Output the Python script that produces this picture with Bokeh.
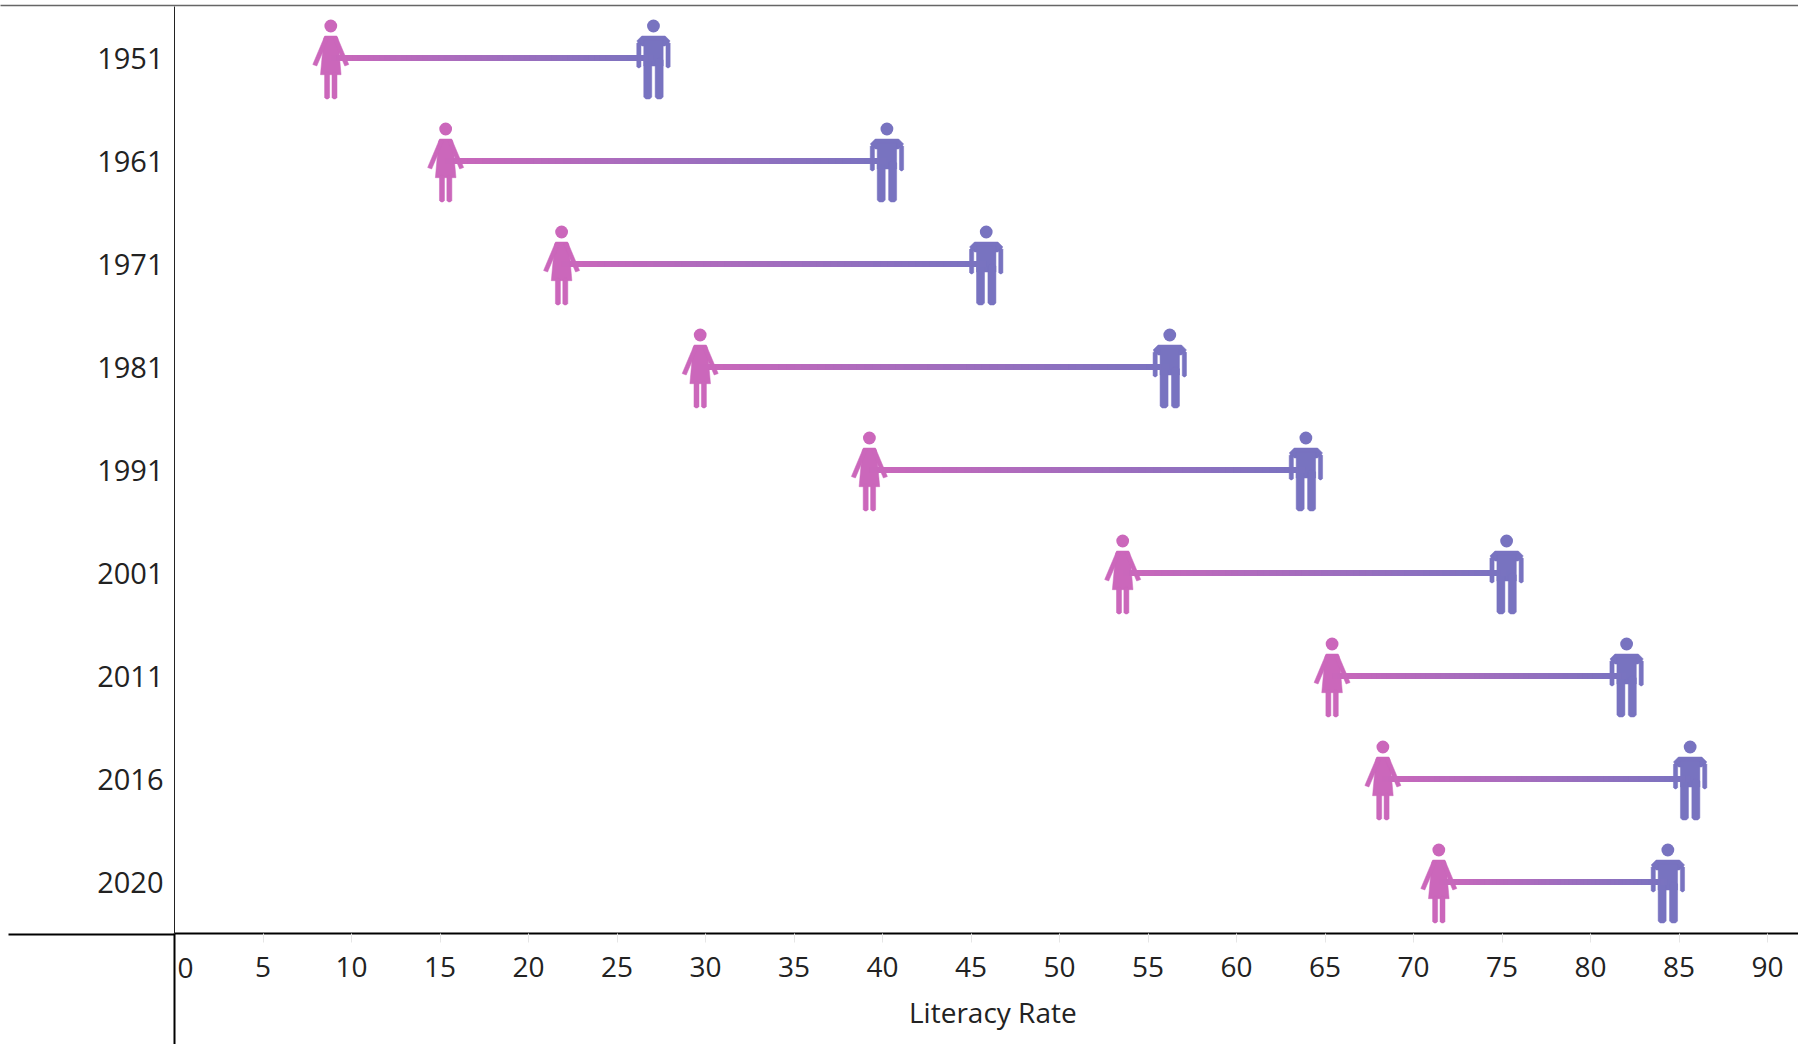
from bokeh.plotting import figure
from bokeh.embed import file_html
from bokeh.resources import INLINE
from bokeh.models import Range1d, FixedTicker, Title
from bokeh.core.properties import value

years = ["1951", "1961", "1971", "1981", "1991", "2001", "2011", "2016", "2020"]
female = [8.83, 15.32, 21.87, 29.7, 39.26, 53.57, 65.4, 68.27, 71.43]
male = [27.06, 40.25, 45.86, 56.23, 63.92, 75.26, 82.04, 85.63, 84.37]
x_ticks = list(range(0, 95, 5))
x_title = "Literacy Rate"

PINK = (203, 103, 187)
PURPLE = (120, 115, 192)
FONT = "Open Sans"

W, H = 1798, 1044
L, T, B = 174, 6, 111
PX_PER_X = 17.7
x_start = (L - 174) / PX_PER_X
x_end = x_start + (W - L) / PX_PER_X
PX_PER_Y = (H - T - B) / 9
BASE = H - B
y_top, y_bottom = -0.5, 8.5

rows = list(range(len(years)))


def hexc(c):
    return "#%02x%02x%02x" % tuple(int(round(v)) for v in c)


def px_x(px):
    return x_start + (px - L) / PX_PER_X


def px_y(py):
    return y_top + (py - T) / PX_PER_Y


p = figure(width=W, height=H, output_backend="svg", toolbar_location=None,
           x_range=Range1d(x_start, x_end), y_range=Range1d(y_bottom, y_top),
           min_border_left=L, min_border_right=0, min_border_top=T, min_border_bottom=B,
           outline_line_color=None)
p.grid.visible = False

ax = p.xaxis[0]
ax.ticker = FixedTicker(ticks=x_ticks)
ax.major_label_overrides = {0: ""}
ax.major_label_text_font = FONT
ax.major_label_text_font_size = "28px"
ax.major_label_text_color = "#222222"
ax.major_label_standoff = 14
ax.major_tick_in = 0
ax.major_tick_out = 9
ax.major_tick_line_color = "#e6e6e6"
ax.minor_tick_line_color = None
ax.axis_line_color = "#000000"
ax.axis_line_width = 2

ay = p.yaxis[0]
ay.ticker = FixedTicker(ticks=rows)
ay.major_label_overrides = {i: y for i, y in zip(rows, years)}
ay.major_label_text_font = FONT
ay.major_label_text_font_size = "29px"
ay.major_label_text_color = "#222222"
ay.major_label_standoff = 5
ay.major_tick_line_color = None
ay.minor_tick_line_color = None
ay.axis_line_color = "#222222"
ay.axis_line_width = 1


# icon outlines, in pixels around the value's position
def rect(x0, x1, y0, y1, r=1.5):
    return ([x0 + r, x1 - r, x1, x1, x1 - r, x0 + r, x0, x0],
            [y0, y0, y0 + r, y1 - r, y1, y1, y1 - r, y0 + r])


FEMALE_SHAPES = [
    ([-5.5, 5.5, 7, 10.3, -10.3, -7], [-22, -22, -20, 16.7, 16.7, -20]),
    ([-6, -2, -14, -18], [-22, -20, 8, 6.5]),
    ([6, 2, 14, 18], [-22, -20, 8, 6.5]),
    rect(-6.2, -1.2, 14, 41),
    rect(1.2, 6.2, 14, 41),
]
MALE_SHAPES = [
    rect(-16.7, 16.7, -22, -12, 5),
    rect(-16.7, -12.5, -16, 10),
    rect(12.5, 16.7, -16, 10),
    rect(-9.7, 9.7, -18, 8, 0),
    rect(-9.7, -1.7, 0, 41, 2),
    rect(1.7, 9.7, 0, 41, 2),
]


def icons(values, shapes, color):
    xs, ys = [], []
    for r, v in zip(rows, values):
        for sx, sy in shapes:
            xs.append([v + a / PX_PER_X for a in sx])
            ys.append([r + b / PX_PER_Y for b in sy])
    p.patches(xs, ys, fill_color=hexc(color), line_color=hexc(color), line_width=0.5)
    p.scatter(values, [r - 32 / PX_PER_Y for r in rows], marker="circle", size=12.8,
              fill_color=hexc(color), line_color=None)


icons(female, FEMALE_SHAPES, PINK)
icons(male, MALE_SHAPES, PURPLE)

# gradient connector: many short overlapping pieces blended from pink to purple
N = 60
x0s, x1s, ys, cols = [], [], [], []
for r, f, m in zip(rows, female, male):
    for i in range(N):
        t0, t1 = i / N, min(1, (i + 2) / N)
        x0s.append(f + (m - f) * t0)
        x1s.append(f + (m - f) * t1)
        ys.append(r)
        tc = (i + 0.5) / N
        cols.append(hexc([a + (b - a) * tc for a, b in zip(PINK, PURPLE)]))
p.segment(x0s, ys, x1s, ys, line_color=cols, line_width=6, line_cap="butt")

# the "0" label sits to the right of its tick, as in the reference
p.text([0], [px_y(967)], text=["0"], x_offset=11, level="overlay",
       text_font=value(FONT), text_font_size="28px", text_color="#222222",
       text_align="center", text_baseline="middle")

p.add_layout(Title(text=x_title, text_font=FONT, text_font_size="28px", text_font_style="normal",
                   text_color="#222222", align="left", offset=993.5 - L - 85, standoff=23), "below")

# header rules
for x0, x1, y0, y1, c, w in [(0, W, 5, 5, "#666666", 1.5),
                             (174, 174, BASE, H, "#000000", 2),
                             (8, 174, BASE + 1, BASE + 1, "#000000", 2)]:
    p.segment([px_x(x0)], [px_y(y0)], [px_x(x1)], [px_y(y1)], line_color=c, line_width=w,
              level="overlay")

open("out.html", "w").write(file_html(p, INLINE))
